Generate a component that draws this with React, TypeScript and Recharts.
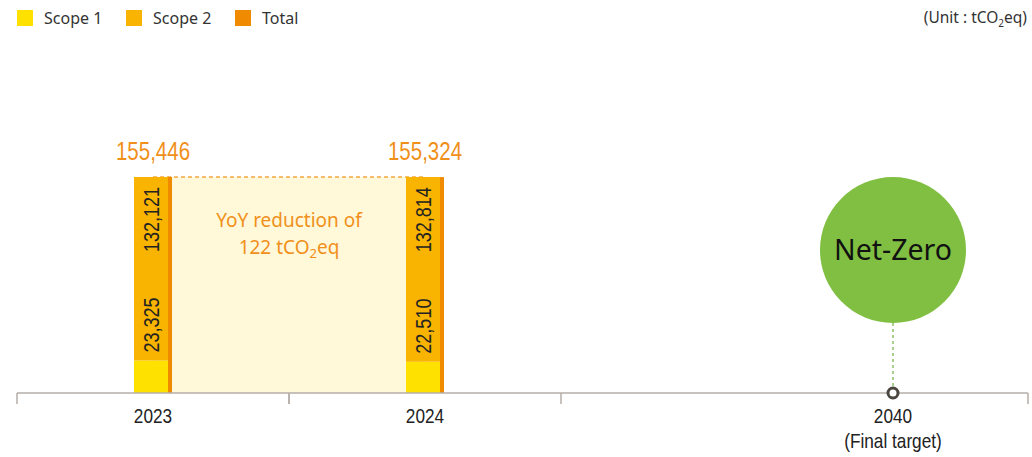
import React from "react";
import { ComposedChart, Bar, Area, Scatter, XAxis, YAxis, Legend, LabelList } from "recharts";

// ---- data ----
const years = ["2023", "2024"];
const scope1Values = [23325, 22510];
const scope2Values = [132121, 132814];
const totalValues = [155446, 155324];
const seriesNames = ["Scope 1", "Scope 2", "Total"];
const targetYears = ["2040"];
const targetNotes = ["(Final target)"];
const targetValues = [0];
const targetText = "Net-Zero";

// ---- layout ----
const W = 1032;
const H = 457;
const PLOT_TOP = 115;
const AXIS_Y = 393;
const X_AXIS_H = 40;
const MARGIN_BOTTOM = H - AXIS_Y - X_AXIS_H;
const A_LEFT = 17;
const A_RIGHT = 561;
const B_RIGHT = 1028;
const B_PAD_LEFT = 197;
const HALF_A = (A_RIGHT - A_LEFT) / years.length / 2;
const HALF_B = (B_RIGHT - A_RIGHT - B_PAD_LEFT) / targetYears.length / 2;
const Y_MAX = 200000;
const NARROW = 0.82;

const COLORS = {
  s1: "#ffe100",
  s2: "#f8b400",
  total: "#f08a00",
  label: "#f0901a",
  band: "#fff8d9",
  dash: "#f4a640",
  axis: "#b6aea8",
  green: "#80bf42",
  greenDot: "#a9d18e",
  ring: "#4b463f",
  text: "#222222",
};
const NUM_FONT = "'Liberation Sans', Arial, sans-serif";
const TEXT_FONT = "'Noto Sans', 'Open Sans', sans-serif";

const fmt = (v: number) => v.toLocaleString("en-US");

const data = years.map((year, i) => ({
  year,
  scope1: scope1Values[i],
  scope2: scope2Values[i],
  total: totalValues[i],
}));
const targetData = targetYears.map((year, i) => ({ year, note: targetNotes[i], target: targetValues[i] }));

// text drawn with a horizontally condensed face
const NarrowText = ({ x, y, rotate = 0, anchor = "middle", size, fill, dy, children }: any) => (
  <g transform={`translate(${x} ${y}) rotate(${rotate}) scale(${NARROW} 1)`}>
    <text x={0} y={0} dy={dy} textAnchor={anchor} fontSize={size} fill={fill} fontFamily={NUM_FONT}>
      {children}
    </text>
  </g>
);

const YearTickA = (props: any) => {
  const { x, y, payload } = props;
  return (
    <g>
      <line x1={x - HALF_A} x2={x - HALF_A} y1={y} y2={y + 11} stroke={COLORS.axis} strokeWidth={1.5} />
      <line x1={x + HALF_A} x2={x + HALF_A} y1={y} y2={y + 11} stroke={COLORS.axis} strokeWidth={1.5} />
      <NarrowText x={x} y={y + 30} size={21} fill={COLORS.text}>
        {payload.value}
      </NarrowText>
    </g>
  );
};

const YearTickB = (props: any) => {
  const { x, y, payload, index } = props;
  const note = targetData[index] ? targetData[index].note : "";
  return (
    <g>
      <line x1={x + HALF_B} x2={x + HALF_B} y1={y} y2={y + 11} stroke={COLORS.axis} strokeWidth={1.5} />
      <NarrowText x={x} y={y + 30} size={21} fill={COLORS.text}>
        {payload.value}
      </NarrowText>
      <NarrowText x={x} y={y + 55} size={21} fill={COLORS.text}>
        {note}
      </NarrowText>
    </g>
  );
};

const BarLabels = (props: any) => {
  const { x, y, width, height, index } = props;
  const row = data[index];
  if (!row) return null;
  const cx = x + width / 2;
  const bottom = y + height;
  return (
    <g>
      <NarrowText x={cx + 2} y={y - 17} size={25} fill={COLORS.label}>
        {fmt(row.total)}
      </NarrowText>
      <NarrowText x={cx} y={y + 10} rotate={-90} anchor="end" dy="0.36em" size={22} fill={COLORS.text}>
        {fmt(row.scope2)}
      </NarrowText>
      <NarrowText x={cx} y={bottom - 8} rotate={-90} anchor="start" dy="0.36em" size={22} fill={COLORS.text}>
        {fmt(row.scope1)}
      </NarrowText>
    </g>
  );
};

const YoyLabel = (props: any) => {
  const { x, y, index } = props;
  if (index !== 0) return null;
  const diff = totalValues[0] - totalValues[1];
  const mx = x + HALF_A;
  return (
    <text textAnchor="middle" fill={COLORS.label} fontFamily={TEXT_FONT} fontSize={19}>
      <tspan x={mx} y={y + 50}>YoY reduction of</tspan>
      <tspan x={mx} y={y + 77}>
        {fmt(diff)} tCO
        <tspan fontSize={13} dy={4}>2</tspan>
        <tspan dy={-4}>eq</tspan>
      </tspan>
    </text>
  );
};

const TargetShape = (props: any) => {
  const { cx, cy } = props;
  const r = 73;
  const cc = cy - 143;
  return (
    <g>
      <line x1={cx} x2={cx} y1={cc + r} y2={cy - 6} stroke={COLORS.greenDot} strokeWidth={2} strokeDasharray="3 3" />
      <circle cx={cx} cy={cc} r={r} fill={COLORS.green} />
      <text x={cx} y={cc} dy="0.36em" textAnchor="middle" fontSize={28.5} fill="#111" fontFamily={TEXT_FONT}>
        {targetText}
      </text>
      <circle cx={cx} cy={cy} r={5} fill="#fff" stroke={COLORS.ring} strokeWidth={3} />
    </g>
  );
};

const LegendContent = (props: any) => {
  const payload = (props.payload || []).filter((p: any) => p.type !== "none");
  return (
    <div style={{ position: "relative", width: W, height: 36, fontFamily: TEXT_FONT }}>
      <div style={{ display: "flex", paddingLeft: 17, paddingTop: 10 }}>
        {payload.map((p: any) => (
          <div key={p.value} style={{ width: 109, display: "flex", alignItems: "center" }}>
            <span style={{ display: "inline-block", width: 16, height: 16, background: p.color, marginRight: 11 }} />
            <span style={{ fontSize: 16, color: "#333", lineHeight: "16px" }}>{p.value}</span>
          </div>
        ))}
      </div>
      <div style={{ position: "absolute", right: 5, top: 8, fontSize: 15.5, color: "#333", lineHeight: "18px" }}>
        (Unit : tCO<sub style={{ fontSize: 10 }}>2</sub>eq)
      </div>
    </div>
  );
};

export default function App() {
  return (
    <div style={{ position: "absolute", left: 0, top: 0, width: W, height: H, background: "#fff" }}>
      <div style={{ position: "absolute", left: 0, top: 0 }}>
        <ComposedChart
          width={W}
          height={H}
          data={data}
          margin={{ top: PLOT_TOP, left: A_LEFT, right: W - A_RIGHT, bottom: MARGIN_BOTTOM }}
          barGap={0}
        >
          <XAxis
            dataKey="year"
            type="category"
            height={X_AXIS_H}
            axisLine={{ stroke: COLORS.axis, strokeWidth: 1.5 }}
            tickLine={false}
            tickSize={0}
            tickMargin={0}
            tick={<YearTickA />}
            interval={0}
          />
          <YAxis hide domain={[0, Y_MAX]} />
          <Legend
            verticalAlign="middle"
            align="center"
            layout="horizontal"
            wrapperStyle={{ top: 0, left: 0, width: W, margin: 0, padding: 0 }}
            content={<LegendContent />}
          />
          <Area
            type="linear"
            dataKey="total"
            fill={COLORS.band}
            fillOpacity={1}
            stroke={COLORS.dash}
            strokeWidth={1.5}
            strokeDasharray="4 3"
            dot={false}
            activeDot={false}
            legendType="none"
            isAnimationActive={false}
          >
            <LabelList dataKey="total" content={<YoyLabel />} />
          </Area>
          <Bar dataKey="scope1" name={seriesNames[0]} stackId="s" fill={COLORS.s1} barSize={34} isAnimationActive={false} />
          <Bar dataKey="scope2" name={seriesNames[1]} stackId="s" fill={COLORS.s2} barSize={34} isAnimationActive={false}>
            <LabelList dataKey="scope2" content={<BarLabels />} />
          </Bar>
          <Bar dataKey="total" name={seriesNames[2]} fill={COLORS.total} barSize={4} isAnimationActive={false} />
        </ComposedChart>
      </div>
      <div style={{ position: "absolute", left: 0, top: 0 }}>
        <ComposedChart
          width={W}
          height={H}
          data={targetData}
          margin={{ top: PLOT_TOP, left: A_RIGHT, right: W - B_RIGHT, bottom: MARGIN_BOTTOM }}
        >
          <XAxis
            dataKey="year"
            type="category"
            scale="band"
            height={X_AXIS_H}
            padding={{ left: B_PAD_LEFT, right: 0 }}
            axisLine={{ stroke: COLORS.axis, strokeWidth: 1.5 }}
            tickLine={false}
            tickSize={0}
            tickMargin={0}
            tick={<YearTickB />}
            interval={0}
          />
          <YAxis hide domain={[0, Y_MAX]} />
          <Scatter dataKey="target" shape={<TargetShape />} isAnimationActive={false} />
        </ComposedChart>
      </div>
    </div>
  );
}
